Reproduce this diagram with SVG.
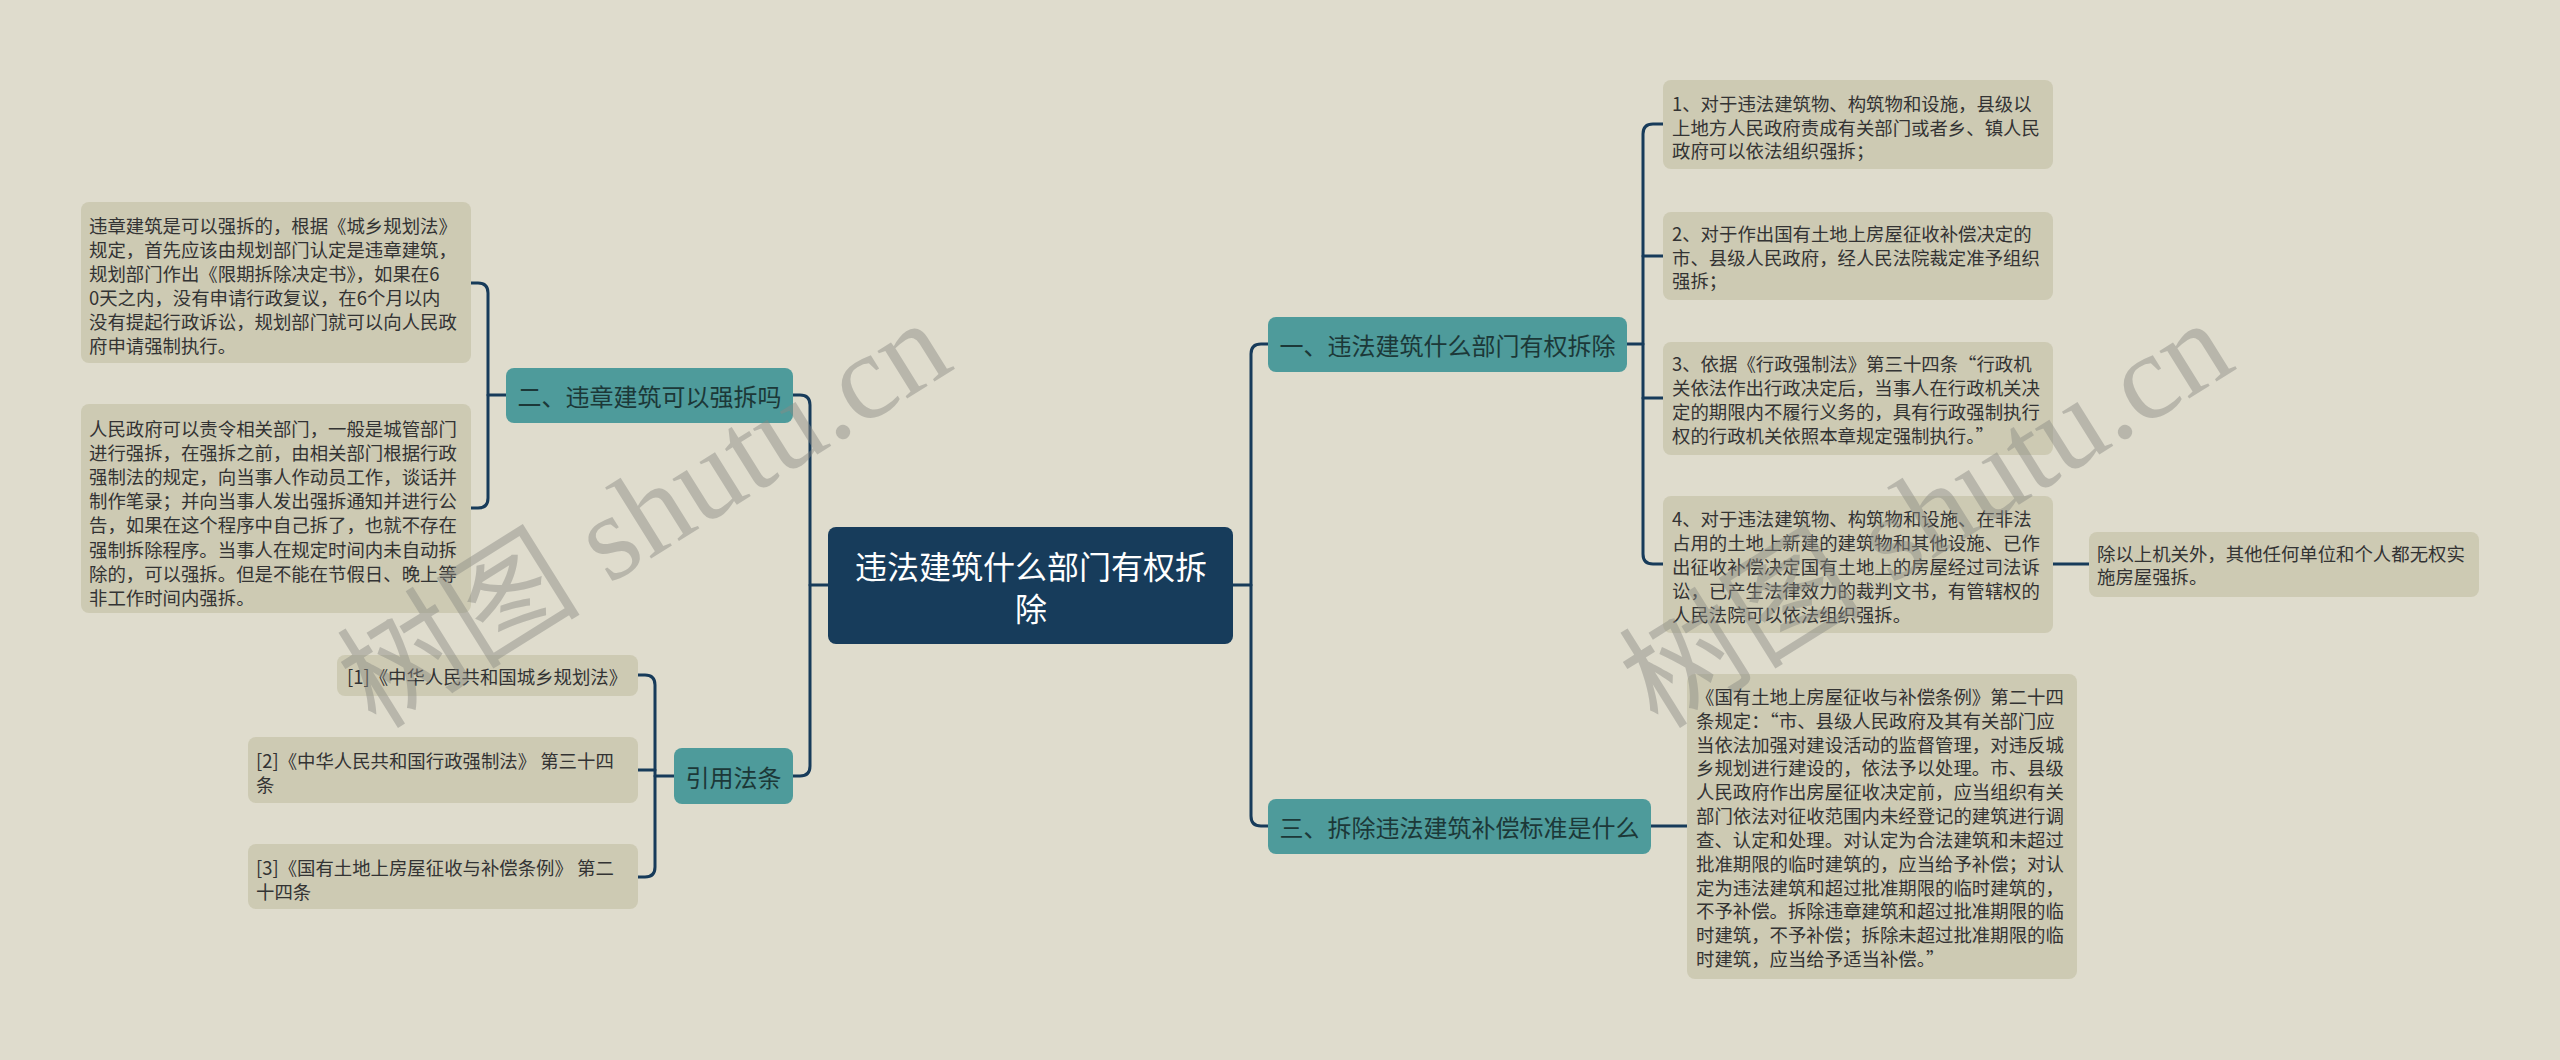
<svg xmlns="http://www.w3.org/2000/svg" width="2560" height="1060" viewBox="0 0 2560 1060">
<style>
.bg{fill:#dfdccd}
.leaf{fill:#cdcab3}
.branch{fill:#4e9b9b}
.root{fill:#173c5b}
.t{font-family:"Noto Sans CJK SC","Liberation Sans",sans-serif;dominant-baseline:central}
.lt{font-size:18.4px;fill:#333333}
.bt{font-size:24px;fill:#1c3838;text-anchor:middle}
.rt{font-size:32px;fill:#ffffff;text-anchor:middle}
.conn path{fill:none;stroke:#173b5a;stroke-width:3;stroke-linecap:round}
.wm{font-family:"Liberation Serif","Noto Sans CJK SC",serif;font-size:122px;fill:#8a8a84;opacity:0.45}
</style>
<rect class="bg" x="0" y="0" width="2560" height="1060"/>

<g id="connectors" class="conn">
<path d="M828,585 H810"/>
<path d="M793,395 H800 Q810,395 810,405 V766 Q810,776 800,776 H793"/>
<path d="M1233,585 H1251"/>
<path d="M1268,344 H1261 Q1251,344 1251,354 V816 Q1251,826 1261,826 H1268"/>
<path d="M1627,344 H1643"/>
<path d="M1663,124 H1653 Q1643,124 1643,134 V554 Q1643,564 1653,564 H1663"/>
<path d="M1643,256 H1663"/>
<path d="M1643,398 H1663"/>
<path d="M2053,564 H2089"/>
<path d="M1651,826 H1687"/>
<path d="M506,395 H488"/>
<path d="M471,283 H478 Q488,283 488,293 V498 Q488,508 478,508 H471"/>
<path d="M674,776 H655"/>
<path d="M638,675 H645 Q655,675 655,685 V867 Q655,877 645,877 H638"/>
<path d="M638,770 H655"/>
</g>

<g id="root">
<rect class="root" x="828" y="527" width="405" height="117" rx="8"/>
<text class="t rt" x="1031" y="565">违法建筑什么部门有权拆</text>
<text class="t rt" x="1031" y="607">除</text>
</g>

<g id="b1">
<rect class="branch" x="1268" y="317" width="359" height="55" rx="8"/>
<text class="t bt" x="1447.5" y="344.5">一、违法建筑什么部门有权拆除</text>
</g>
<g id="b3">
<rect class="branch" x="1268" y="799" width="383" height="55" rx="8"/>
<text class="t bt" x="1459.5" y="826.5">三、拆除违法建筑补偿标准是什么</text>
</g>
<g id="b2">
<rect class="branch" x="506" y="368" width="287" height="55" rx="8"/>
<text class="t bt" x="649.5" y="395.5">二、违章建筑可以强拆吗</text>
</g>
<g id="b4">
<rect class="branch" x="674" y="748" width="119" height="56" rx="8"/>
<text class="t bt" x="733.5" y="776">引用法条</text>
</g>

<g id="l1">
<rect class="leaf" x="81" y="202" width="390" height="161" rx="8"/>
<text class="t lt" x="89">
<tspan x="89" y="225">违章建筑是可以强拆的，根据《城乡规划法》</tspan>
<tspan x="89" y="249">规定，首先应该由规划部门认定是违章建筑，</tspan>
<tspan x="89" y="273">规划部门作出《限期拆除决定书》，如果在6</tspan>
<tspan x="89" y="297">0天之内，没有申请行政复议，在6个月以内</tspan>
<tspan x="89" y="321">没有提起行政诉讼，规划部门就可以向人民政</tspan>
<tspan x="89" y="345">府申请强制执行。</tspan>
</text>
</g>

<g id="l2">
<rect class="leaf" x="81" y="404" width="390" height="209" rx="8"/>
<text class="t lt" x="89">
<tspan x="89" y="428">人民政府可以责令相关部门，一般是城管部门</tspan>
<tspan x="89" y="452">进行强拆，在强拆之前，由相关部门根据行政</tspan>
<tspan x="89" y="476">强制法的规定，向当事人作动员工作，谈话并</tspan>
<tspan x="89" y="500">制作笔录；并向当事人发出强拆通知并进行公</tspan>
<tspan x="89" y="524">告，如果在这个程序中自己拆了，也就不存在</tspan>
<tspan x="89" y="549">强制拆除程序。当事人在规定时间内未自动拆</tspan>
<tspan x="89" y="573">除的，可以强拆。但是不能在节假日、晚上等</tspan>
<tspan x="89" y="597">非工作时间内强拆。</tspan>
</text>
</g>

<g id="r1">
<rect class="leaf" x="337" y="655" width="301" height="41" rx="8"/>
<text class="t lt" x="347" y="676">[1]《中华人民共和国城乡规划法》</text>
</g>
<g id="r2">
<rect class="leaf" x="248" y="737" width="390" height="66" rx="8"/>
<text class="t lt" x="256">
<tspan x="256" y="760">[2]《中华人民共和国行政强制法》 第三十四</tspan>
<tspan x="256" y="784">条</tspan>
</text>
</g>
<g id="r3">
<rect class="leaf" x="248" y="844" width="390" height="65" rx="8"/>
<text class="t lt" x="256">
<tspan x="256" y="867">[3]《国有土地上房屋征收与补偿条例》 第二</tspan>
<tspan x="256" y="891">十四条</tspan>
</text>
</g>

<g id="a1">
<rect class="leaf" x="1663" y="80" width="390" height="89" rx="8"/>
<text class="t lt" x="1672">
<tspan x="1672" y="103">1、对于违法建筑物、构筑物和设施，县级以</tspan>
<tspan x="1672" y="127">上地方人民政府责成有关部门或者乡、镇人民</tspan>
<tspan x="1672" y="150">政府可以依法组织强拆；</tspan>
</text>
</g>
<g id="a2">
<rect class="leaf" x="1663" y="212" width="390" height="88" rx="8"/>
<text class="t lt" x="1672">
<tspan x="1672" y="233">2、对于作出国有土地上房屋征收补偿决定的</tspan>
<tspan x="1672" y="257">市、县级人民政府，经人民法院裁定准予组织</tspan>
<tspan x="1672" y="280">强拆；</tspan>
</text>
</g>
<g id="a3">
<rect class="leaf" x="1663" y="342" width="390" height="113" rx="8"/>
<text class="t lt" x="1672">
<tspan x="1672" y="363">3、依据《行政强制法》第三十四条“行政机</tspan>
<tspan x="1672" y="387">关依法作出行政决定后，当事人在行政机关决</tspan>
<tspan x="1672" y="411">定的期限内不履行义务的，具有行政强制执行</tspan>
<tspan x="1672" y="435">权的行政机关依照本章规定强制执行。”</tspan>
</text>
</g>
<g id="a4">
<rect class="leaf" x="1663" y="496" width="390" height="137" rx="8"/>
<text class="t lt" x="1672">
<tspan x="1672" y="518">4、对于违法建筑物、构筑物和设施、在非法</tspan>
<tspan x="1672" y="542">占用的土地上新建的建筑物和其他设施、已作</tspan>
<tspan x="1672" y="566">出征收补偿决定国有土地上的房屋经过司法诉</tspan>
<tspan x="1672" y="590">讼，已产生法律效力的裁判文书，有管辖权的</tspan>
<tspan x="1672" y="614">人民法院可以依法组织强拆。</tspan>
</text>
</g>
<g id="a4c">
<rect class="leaf" x="2089" y="532" width="390" height="65" rx="8"/>
<text class="t lt" x="2097">
<tspan x="2097" y="553">除以上机关外，其他任何单位和个人都无权实</tspan>
<tspan x="2097" y="576">施房屋强拆。</tspan>
</text>
</g>

<g id="rb">
<rect class="leaf" x="1687" y="674" width="390" height="305" rx="8"/>
<text class="t lt" x="1696">
<tspan x="1696" y="696">《国有土地上房屋征收与补偿条例》第二十四</tspan>
<tspan x="1696" y="720">条规定：“市、县级人民政府及其有关部门应</tspan>
<tspan x="1696" y="744">当依法加强对建设活动的监督管理，对违反城</tspan>
<tspan x="1696" y="767">乡规划进行建设的，依法予以处理。市、县级</tspan>
<tspan x="1696" y="791">人民政府作出房屋征收决定前，应当组织有关</tspan>
<tspan x="1696" y="815">部门依法对征收范围内未经登记的建筑进行调</tspan>
<tspan x="1696" y="839">查、认定和处理。对认定为合法建筑和未超过</tspan>
<tspan x="1696" y="863">批准期限的临时建筑的，应当给予补偿；对认</tspan>
<tspan x="1696" y="887">定为违法建筑和超过批准期限的临时建筑的，</tspan>
<tspan x="1696" y="910">不予补偿。拆除违章建筑和超过批准期限的临</tspan>
<tspan x="1696" y="934">时建筑，不予补偿；拆除未超过批准期限的临</tspan>
<tspan x="1696" y="958">时建筑，应当给予适当补偿。”</tspan>
</text>
</g>

<g id="watermarks">
<text class="wm" x="645" y="555" text-anchor="middle" transform="rotate(-32 645 515)">树图 shutu.cn</text>
<text class="wm" x="1927" y="555" text-anchor="middle" transform="rotate(-32 1927 515)">树图 shutu.cn</text>
</g>
</svg>
